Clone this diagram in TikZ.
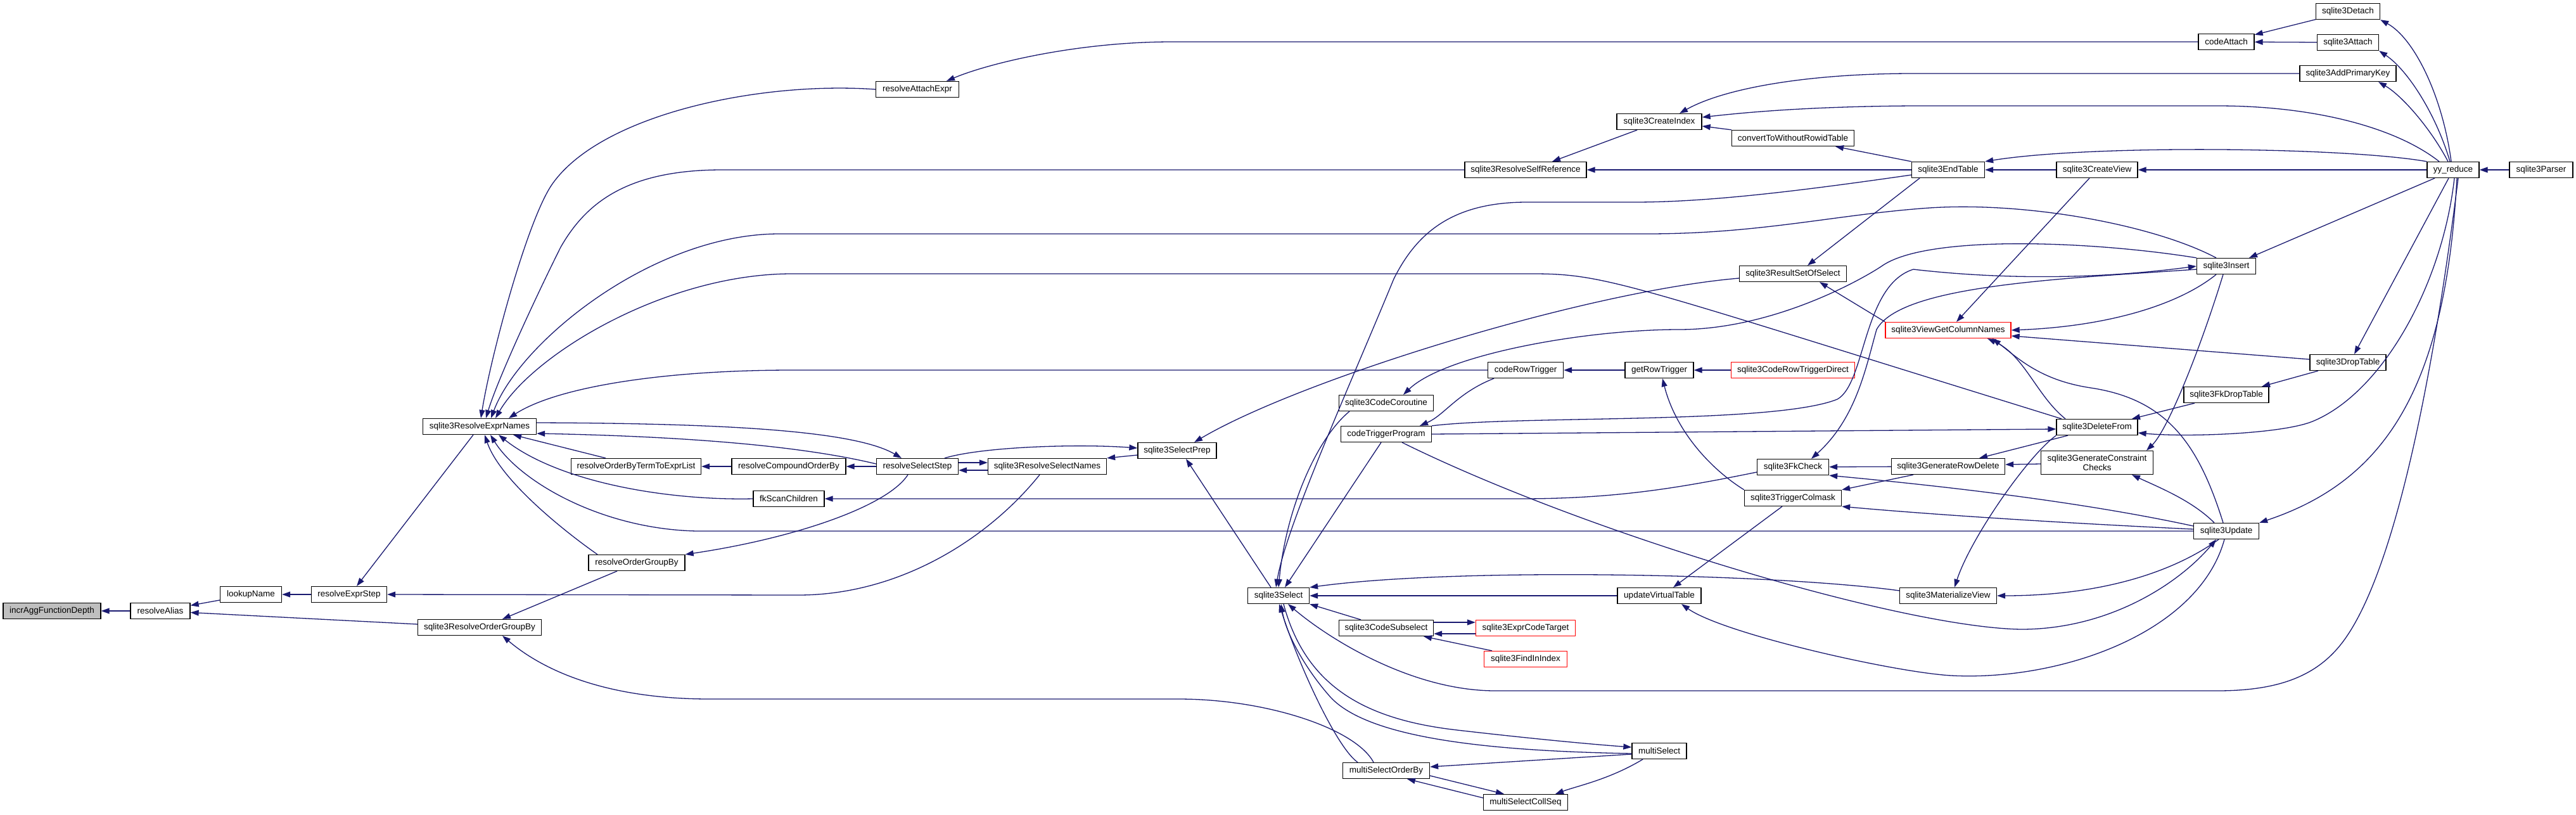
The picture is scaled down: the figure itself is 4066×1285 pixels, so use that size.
\documentclass[tikz,border=0pt]{standalone}
\usepackage{fontspec}
\setmainfont{Liberation Sans}
\usetikzlibrary{arrows.meta}
\definecolor{edgec}{RGB}{25,25,112}
\definecolor{rootfill}{RGB}{191,191,191}
\tikzset{
  n/.style={draw=black, fill=white, line width=1.3pt, inner sep=0pt, minimum height=25pt,
            font=\fontsize{13.5pt}{15pt}\selectfont, anchor=center},
  rootnode/.style={n, fill=rootfill},
  trunc/.style={n, draw=red},
  e/.style={draw=edgec, line width=1.3pt, -{Triangle[length=13pt,width=9pt]}}
}
\begin{document}
\begin{tikzpicture}[x=1pt,y=-1pt]
\fill[white] (0,0) rectangle (4066,1285);
\useasboundingbox (0,0) rectangle (4066,1285);
% nodes
\node[rootnode, minimum width=154pt] (incr) at (82,964) {incrAggFunctionDepth};
\node[n, minimum width=94pt] (ralias) at (253,964) {resolveAlias};
\node[n, minimum width=97pt] (lookup) at (396,938) {lookupName};
\node[n, minimum width=119pt] (rexprstep) at (551,938) {resolveExprStep};
\node[n, minimum width=195pt] (rogb) at (757,990) {sqlite3ResolveOrderGroupBy};
\node[n, minimum width=179pt] (rexpr) at (757,673) {sqlite3ResolveExprNames};
\node[n, minimum width=152pt] (rogb2) at (1005,888) {resolveOrderGroupBy};
\node[n, minimum width=205pt] (robt) at (1004,736) {resolveOrderByTermToExprList};
\node[n, minimum width=112pt] (fkscan) at (1245,787) {fkScanChildren};
\node[n, minimum width=180pt] (rcob) at (1245,736) {resolveCompoundOrderBy};
\node[n, minimum width=129pt] (rss) at (1448,736) {resolveSelectStep};
\node[n, minimum width=131pt] (rattach) at (1448,141) {resolveAttachExpr};
\node[n, minimum width=187pt] (rsn) at (1653,736) {sqlite3ResolveSelectNames};
\node[n, minimum width=124pt] (prep) at (1858,711) {sqlite3SelectPrep};
\node[n, minimum width=97pt] (sel) at (2018,940) {sqlite3Select};
\node[n, minimum width=149pt] (cor) at (2188,636) {sqlite3CodeCoroutine};
\node[n, minimum width=143pt] (ctp) at (2188,685) {codeTriggerProgram};
\node[n, minimum width=149pt] (csub) at (2188,991) {sqlite3CodeSubselect};
\node[n, minimum width=137pt] (msob) at (2188,1216) {multiSelectOrderBy};
\node[n, minimum width=192pt] (rself) at (2408,268) {sqlite3ResolveSelfReference};
\node[n, minimum width=119pt] (crt) at (2408,584) {codeRowTrigger};
\node[trunc, minimum width=157pt] (ect) at (2408,991) {sqlite3ExprCodeTarget};
\node[trunc, minimum width=131pt] (fii) at (2408,1040) {sqlite3FindInIndex};
\node[n, minimum width=133pt] (mscs) at (2408,1266) {multiSelectCollSeq};
\node[n, minimum width=134pt] (cidx) at (2619,192) {sqlite3CreateIndex};
\node[n, minimum width=108pt] (grt) at (2619,584) {getRowTrigger};
\node[n, minimum width=132pt] (uvt) at (2619,940) {updateVirtualTable};
\node[n, minimum width=86pt] (msel) at (2619,1185) {multiSelect};
\node[n, minimum width=193pt] (cwr) at (2830,218) {convertToWithoutRowidTable};
\node[n, minimum width=169pt] (rsos) at (2830,432) {sqlite3ResultSetOfSelect};
\node[trunc, minimum width=195pt] (crtd) at (2830,584) {sqlite3CodeRowTriggerDirect};
\node[n, minimum width=113pt] (fkc) at (2830,737) {sqlite3FkCheck};
\node[n, minimum width=153pt] (tcm) at (2830,786) {sqlite3TriggerColmask};
\node[n, minimum width=115pt] (endt) at (3075,268) {sqlite3EndTable};
\node[trunc, minimum width=198pt] (vgcn) at (3075,521) {sqlite3ViewGetColumnNames};
\node[n, minimum width=179pt] (grd) at (3075,736) {sqlite3GenerateRowDelete};
\node[n, minimum width=153pt] (mview) at (3075,940) {sqlite3MaterializeView};
\node[n, minimum width=128pt] (cview) at (3310,268) {sqlite3CreateView};
\node[n, minimum width=128pt] (delf) at (3310,674) {sqlite3DeleteFrom};
\node[n, minimum width=177pt, minimum height=37pt, align=center] (gcc) at (3310,730) {sqlite3GenerateConstraint\\Checks};
\node[n, minimum width=88pt] (cattach) at (3514,66) {codeAttach};
\node[n, minimum width=93pt] (ins) at (3514,420) {sqlite3Insert};
\node[n, minimum width=134pt] (fkdrop) at (3514,623) {sqlite3FkDropTable};
\node[n, minimum width=103pt] (upd) at (3514,838) {sqlite3Update};
\node[n, minimum width=101pt] (detach) at (3706,18) {sqlite3Detach};
\node[n, minimum width=97pt] (attach) at (3706,67) {sqlite3Attach};
\node[n, minimum width=152pt] (apk) at (3706,116) {sqlite3AddPrimaryKey};
\node[n, minimum width=120pt] (dropt) at (3706,572) {sqlite3DropTable};
\node[n, minimum width=82pt] (yy) at (3872,268) {yy\_reduce};
\node[n, minimum width=100pt] (parser) at (4011,268) {sqlite3Parser};
% edges (caller -> callee, arrow at callee)
\draw[e] (ralias) -- (incr);
\draw[e] (lookup) -- (ralias);
\draw[e] (rogb) -- (ralias);
\draw[e] (rexprstep) -- (lookup);
\draw[e] ([xshift=-10pt]rexpr.south) -- ([xshift=12pt]rexprstep.north);
\draw[e] ([xshift=-12pt]rsn.south) .. controls (1560,850) and (1420,939) .. (1260,939) -- (rexprstep.east);
\draw[e] ([xshift=-31pt]rogb2.south) -- ([xshift=36pt]rogb.north);
\draw[e] ([xshift=-20pt]msob.north) .. controls (2140,1150) and (2000,1103) .. (1860,1103) -- (1120,1103) .. controls (960,1103) and (860,1060) .. ([xshift=36pt]rogb.south);
\draw[e] (rattach.west) .. controls (1200,128) and (950,180) .. (872,290) .. controls (833,345) and (775,560) .. ([xshift=2pt]rexpr.north);
\draw[e] (rself.west) -- (1140,268) .. controls (990,268) and (925,320) .. (885,390) .. controls (845,470) and (785,600) .. ([xshift=10pt]rexpr.north);
\draw[e] ([xshift=-16pt]ins.north) .. controls (3400,355) and (3200,318) .. (3046,328) .. controls (2900,338) and (2780,369) .. (2600,369) -- (1230,369) .. controls (1030,369) and (820,540) .. ([xshift=18pt]rexpr.north);
\draw[e] ([xshift=-56pt]delf.north) -- (3000,582) .. controls (2560,445) and (2520,432) .. (2420,432) -- (1250,432) .. controls (1050,432) and (840,560) .. ([xshift=25pt]rexpr.north);
\draw[e] (crt.west) -- (1250,584) .. controls (1050,584) and (880,610) .. ([xshift=46pt]rexpr.north);
\draw[e] ([yshift=4pt]rss.west) .. controls (1300,712) and (1150,690) .. ([yshift=-11pt]rexpr.east);
\draw[e] ([yshift=6pt]rexpr.east) .. controls (1150,668) and (1350,680) .. ([xshift=-25pt]rss.north);
\draw[e] ([xshift=-48pt]robt.north) -- ([xshift=53pt]rexpr.south);
\draw[e] (fkscan.west) .. controls (1050,790) and (880,760) .. ([xshift=30pt]rexpr.south);
\draw[e] (upd.west) -- (1100,838) .. controls (950,835) and (820,760) .. ([xshift=17pt]rexpr.south);
\draw[e] ([xshift=-62pt]rogb2.north) .. controls (900,845) and (790,760) .. ([xshift=8pt]rexpr.south);
\draw[e] ([xshift=-15pt]rss.south) .. controls (1400,800) and (1250,850) .. (rogb2.north east);
\draw[e] (cattach.west) -- (1850,66) .. controls (1700,66) and (1560,100) .. ([xshift=46pt]rattach.north);
\draw[e] (detach) -- (cattach);
\draw[e] (attach) -- (cattach);
\draw[e] ([xshift=-3pt]yy.north) .. controls (3855,150) and (3810,60) .. (detach.south east);
\draw[e] ([xshift=-5pt]yy.north) .. controls (3845,180) and (3800,110) .. (attach.south east);
\draw[e] ([xshift=-8pt]yy.north) .. controls (3835,200) and (3790,150) .. ([xshift=48pt]apk.south);
\draw[e] (apk.west) -- (3020,116) .. controls (2850,116) and (2720,140) .. ([xshift=32pt]cidx.north);
\draw[e] ([xshift=-22pt]yy.north) .. controls (3780,200) and (3650,167) .. (3500,167) -- (3020,167) .. controls (2850,168) and (2750,178) .. ([yshift=7pt]cidx.east);
\draw[e] (cwr.north west) -- ([yshift=-7pt]cidx.east);
\draw[e] (endt.north west) -- ([xshift=67pt]cwr.south);
\draw[e] ([xshift=-35pt]cidx.south) -- ([xshift=42pt]rself.north);
\draw[e] (endt) -- (rself);
\draw[e] (cview) -- (endt);
\draw[e] (yy.north west) .. controls (3700,232) and (3300,228) .. (endt.north east);
\draw[e] (yy) -- (cview);
\draw[e] (parser) -- (yy);
\draw[e] ([xshift=-45pt]endt.south) -- ([xshift=23pt]rsos.north);
\draw[e] (vgcn.north west) -- ([xshift=42pt]rsos.south);
\draw[e] ([yshift=-8pt]endt.west) .. controls (2850,300) and (2700,319) .. (2580,319) -- (2410,319) .. controls (2290,319) and (2235,370) .. (2200,440) .. controls (2130,610) and (2030,830) .. ([xshift=-4pt]sel.north);
\draw[e] ([yshift=-7pt]rsos.west) .. controls (2500,460) and (2050,600) .. ([xshift=27pt]prep.north);
\draw[e] ([xshift=43pt]rss.north) .. controls (1550,705) and (1700,700) .. ([yshift=4pt]prep.west);
\draw[e] ([xshift=-12pt]sel.north) -- ([xshift=14pt]prep.south);
\draw[e] ([yshift=-7pt]prep.west) -- (rsn.north east);
\draw[e] ([yshift=6pt]rss.east) -- ([yshift=6pt]rsn.west);
\draw[e] ([yshift=-6pt]rsn.west) -- ([yshift=-6pt]rss.east);
\draw[e] (rss) -- (rcob);
\draw[e] (rcob) -- (robt);
\draw[e] ([yshift=-8pt]fkc.west) .. controls (2650,770) and (2550,787) .. (2400,787) -- (fkscan.east);
\draw[e] ([xshift=-29pt]yy.south) -- ([xshift=36pt]ins.north);
\draw[e] (ctp.north east) .. controls (2400,655) and (2800,670) .. (2900,630) .. controls (2945,605) and (2940,450) .. (3020,425) .. controls (3150,440) and (3300,442) .. (ins.west);
\draw[e] (ins.north west) .. controls (3300,380) and (3040,370) .. (2970,420) .. controls (2940,440) and (2800,520) .. (2650,520) .. controls (2500,520) and (2280,560) .. ([xshift=27pt]cor.north);
\draw[e] ([yshift=-5pt]ins.west) .. controls (3250,440) and (3000,450) .. (2962,520) .. controls (2945,580) and (2930,660) .. ([xshift=29pt]fkc.north);
\draw[e] (grd) -- (fkc);
\draw[e] ([yshift=8pt]upd.west) .. controls (3300,795) and (3100,770) .. (fkc.south east);
\draw[e] ([xshift=-12pt]cview.south) -- ([xshift=13pt]vgcn.north);
\draw[e] ([xshift=-16pt]ins.south) .. controls (3440,480) and (3330,515) .. (vgcn.east);
\draw[e] ([yshift=5pt]dropt.west) -- ([yshift=-9pt]vgcn.east);
\draw[e] ([xshift=-50pt]delf.north) .. controls (3215,625) and (3195,560) .. ([xshift=62pt]vgcn.south);
\draw[e] ([xshift=-5pt]upd.north) .. controls (3470,700) and (3420,630) .. (3300,612) .. controls (3220,600) and (3185,565) .. ([xshift=70pt]vgcn.south);
\draw[e] ([xshift=-7pt]yy.south) -- ([xshift=10pt]dropt.north);
\draw[e] ([xshift=-47pt]dropt.south) -- ([xshift=56pt]fkdrop.north);
\draw[e] ([xshift=-50pt]fkdrop.south) -- ([xshift=55pt]delf.north);
\draw[e] ([xshift=2pt]yy.south) .. controls (3855,450) and (3760,620) .. (3650,665) .. controls (3600,685) and (3450,690) .. ([yshift=-9pt]delf.east);
\draw[e] (ctp.east) -- ([yshift=-3pt]delf.west);
\draw[e] ([xshift=-46pt]delf.south) -- ([xshift=49pt]grd.north);
\draw[e] ([yshift=-2pt]gcc.west) -- ([yshift=3pt]grd.east);
\draw[e] ([xshift=-5pt]ins.south) .. controls (3470,560) and (3420,680) .. ([xshift=78pt]gcc.north);
\draw[e] ([xshift=-19pt]upd.north) .. controls (3460,790) and (3410,770) .. ([xshift=55pt]gcc.south);
\draw[e] ([xshift=6pt]yy.south) .. controls (3860,620) and (3760,760) .. (upd.north east);
\draw[e] ([xshift=25pt]ctp.south) .. controls (2500,840) and (3000,990) .. (3190,993) .. controls (3330,993) and (3440,920) .. ([xshift=-16pt]upd.south);
\draw[e] (delf.south west) .. controls (3200,720) and (3110,850) .. ([xshift=10pt]mview.north);
\draw[e] ([xshift=-12pt]upd.south) .. controls (3420,910) and (3300,940) .. (mview.east);
\draw[e] ([yshift=8pt]mview.west) .. controls (2800,905) and (2300,895) .. (sel.north east);
\draw[e] (uvt) -- (sel);
\draw[e] ([xshift=-3pt]upd.south) .. controls (3470,1000) and (3250,1075) .. (3080,1066) .. controls (2990,1061) and (2720,1000) .. ([xshift=35pt]uvt.south);
\draw[e] ([xshift=-17pt]tcm.south) -- ([xshift=22pt]uvt.north);
\draw[e] (tcm.north west) .. controls (2700,740) and (2645,680) .. ([xshift=5pt]grt.south);
\draw[e] (crtd) -- (grt);
\draw[e] (grt) -- (crt);
\draw[e] ([xshift=-50pt]crt.south) .. controls (2300,620) and (2280,655) .. ([xshift=53pt]ctp.north);
\draw[e] ([xshift=-8pt]ctp.south) -- ([xshift=10pt]sel.north);
\draw[e] ([xshift=-58pt]cor.south) .. controls (2080,690) and (2030,800) .. (sel.north);
\draw[e] ([xshift=-40pt]csub.north) -- (sel.south east);
\draw[e] ([xshift=8pt]yy.south) .. controls (3840,600) and (3780,900) .. (3700,1010) .. controls (3660,1065) and (3600,1090) .. (3500,1090) -- (2360,1090) .. controls (2230,1090) and (2100,1010) .. ([xshift=15pt]sel.south);
\draw[e] ([xshift=8pt]sel.south) .. controls (2060,1080) and (2150,1135) .. (2300,1152) .. controls (2430,1167) and (2520,1175) .. ([yshift=6pt]msel.west);
\draw[e] ([yshift=-4pt]msel.west) .. controls (2350,1185) and (2160,1165) .. (2100,1100) .. controls (2060,1055) and (2030,1000) .. ([xshift=4pt]sel.south);
\draw[e] ([xshift=-45pt]msob.north) .. controls (2110,1180) and (2050,1050) .. ([xshift=1pt]sel.south);
\draw[e] ([yshift=-5pt]msel.west) -- ([yshift=6pt]msob.east);
\draw[e] ([xshift=-26pt]msel.south) .. controls (2540,1230) and (2490,1240) .. ([xshift=47pt]mscs.north);
\draw[e] ([yshift=-8pt]msob.east) -- ([xshift=-34pt]mscs.north);
\draw[e] ([yshift=7pt]mscs.west) -- ([xshift=33pt]msob.south);
\draw[e] ([yshift=9pt]csub.east) -- ([yshift=9pt]ect.west);
\draw[e] ([yshift=-9pt]ect.west) -- ([yshift=-9pt]csub.east);
\draw[e] ([xshift=-53pt]fii.north) -- ([xshift=59pt]csub.south);
\draw[e] ([xshift=-55pt]grd.south) -- (tcm.north east);
\draw[e] ([yshift=3pt]upd.west) .. controls (3250,825) and (3050,812) .. (tcm.south east);
\end{tikzpicture}
\end{document}
